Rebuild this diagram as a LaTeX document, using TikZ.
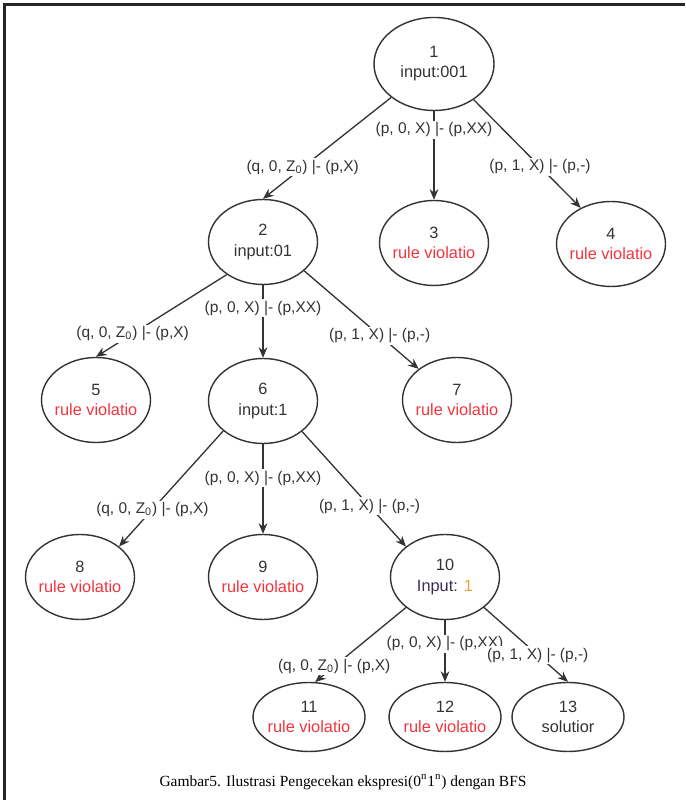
\documentclass[tikz,border=0pt]{standalone}
\usepackage{fontspec}
\setmainfont{Liberation Serif}
\setsansfont{Liberation Sans}
\usetikzlibrary{shapes.geometric,arrows.meta}
\definecolor{ink}{HTML}{333333}
\definecolor{ruleRed}{HTML}{F2353D}
\definecolor{inputPurple}{HTML}{3D2B56}
\definecolor{oneGold}{HTML}{E8A33D}

\begin{document}
\begin{tikzpicture}[
  state/.style={ellipse,draw=ink,line width=0.8pt,inner xsep=-6pt,inner ysep=0pt,
    minimum width=2.18cm,minimum height=1.7cm,align=center,text=ink,
    font=\sffamily\fontsize{9.3}{11.4}\selectfont},
  leaf/.style={state,minimum width=2.24cm,minimum height=1.38cm},
  move/.style={draw=ink,line width=0.75pt,-{Stealth[length=6pt,width=5pt]}},
  rule/.style={fill=white,inner sep=1pt,text=ink,font=\sffamily\fontsize{8.8}{10}\selectfont}]
  \useasboundingbox (0,0) rectangle (13.7,16);
  % frame
  \draw[black!85,line width=1.4pt] (0.09,0) -- (0.09,15.91) -- (13.7,15.91);
  % search tree
  \node[state,minimum width=2.4cm,minimum height=1.86cm] (n1) at (8.68,14.72) {1\\input:001};
  \node[state] (n2) at (5.26,11.16) {2\\input:01};
  \node[state] (n3) at (8.68,11.14) {3\\\textcolor{ruleRed}{rule violatio}};
  \node[state] (n4) at (12.22,11.12) {4\\\textcolor{ruleRed}{rule violatio}};
  \node[state] (n5) at (1.92,8.0) {5\\\textcolor{ruleRed}{rule violatio}};
  \node[state] (n6) at (5.26,7.98) {6\\input:1};
  \node[state] (n7) at (9.14,8.0) {7\\\textcolor{ruleRed}{rule violatio}};
  \node[state] (n8) at (1.6,4.46) {8\\\textcolor{ruleRed}{rule violatio}};
  \node[state] (n9) at (5.26,4.46) {9\\\textcolor{ruleRed}{rule violatio}};
  \node[state] (n10) at (8.9,4.46) {10\\\textcolor{inputPurple}{Input:} \textcolor{oneGold}{1}};
  \node[leaf] (n11) at (6.18,1.66) {11\\\textcolor{ruleRed}{rule violatio}};
  \node[leaf] (n12) at (8.9,1.66) {12\\\textcolor{ruleRed}{rule violatio}};
  \node[leaf] (n13) at (11.36,1.66) {13\\solutior};
  % transitions
  \draw[move] (n1.218) -- node[rule,pos=0.69] {(q, 0, Z\textsubscript{0}) |- (p,X)} (n2.north);
  \draw[move] (n1.south) -- node[rule,pos=0.21] {(p, 0, X) |- (p,XX)} (n3.north);
  \draw[move] (n1.318) -- node[rule,pos=0.62] {(p, 1, X) |- (p,-)} (n4.130);
  \draw[move] (n2.222) -- node[rule,pos=0.72] {(q, 0, Z\textsubscript{0}) |- (p,X)} (n5.north);
  \draw[move] (n2.south) -- node[rule,pos=0.32] {(p, 0, X) |- (p,XX)} (n6.north);
  \draw[move] (n2.325) -- node[rule,pos=0.66] {(p, 1, X) |- (p,-)} (n7.141);
  \draw[move] (n6.217) -- node[rule,pos=0.68] {(q, 0, Z\textsubscript{0}) |- (p,X)} (n8.38);
  \draw[move] (n6.south) -- node[rule,pos=0.38] {(p, 0, X) |- (p,XX)} (n9.north);
  \draw[move] (n6.322) -- node[rule,pos=0.65] {(p, 1, X) |- (p,-)} (n10.142);
  \draw[move] (n10.218) -- node[rule,pos=0.79] {(q, 0, Z\textsubscript{0}) |- (p,X)} (n11.80);
  \draw[move] (n10.south) -- node[rule,pos=0.38] {(p, 0, X) |- (p,XX)} (n12.north);
  \draw[move] (n10.322) -- node[rule,pos=0.64] {(p, 1, X) |- (p,-)} (n13.north);
  % caption
  \node (caption) at (6.86,0.36) {\fontsize{8.8}{10}\selectfont Gambar5. Ilustrasi Pengecekan ekspresi(0\textsuperscript{n}1\textsuperscript{n}) dengan BFS};
\end{tikzpicture}
\end{document}
